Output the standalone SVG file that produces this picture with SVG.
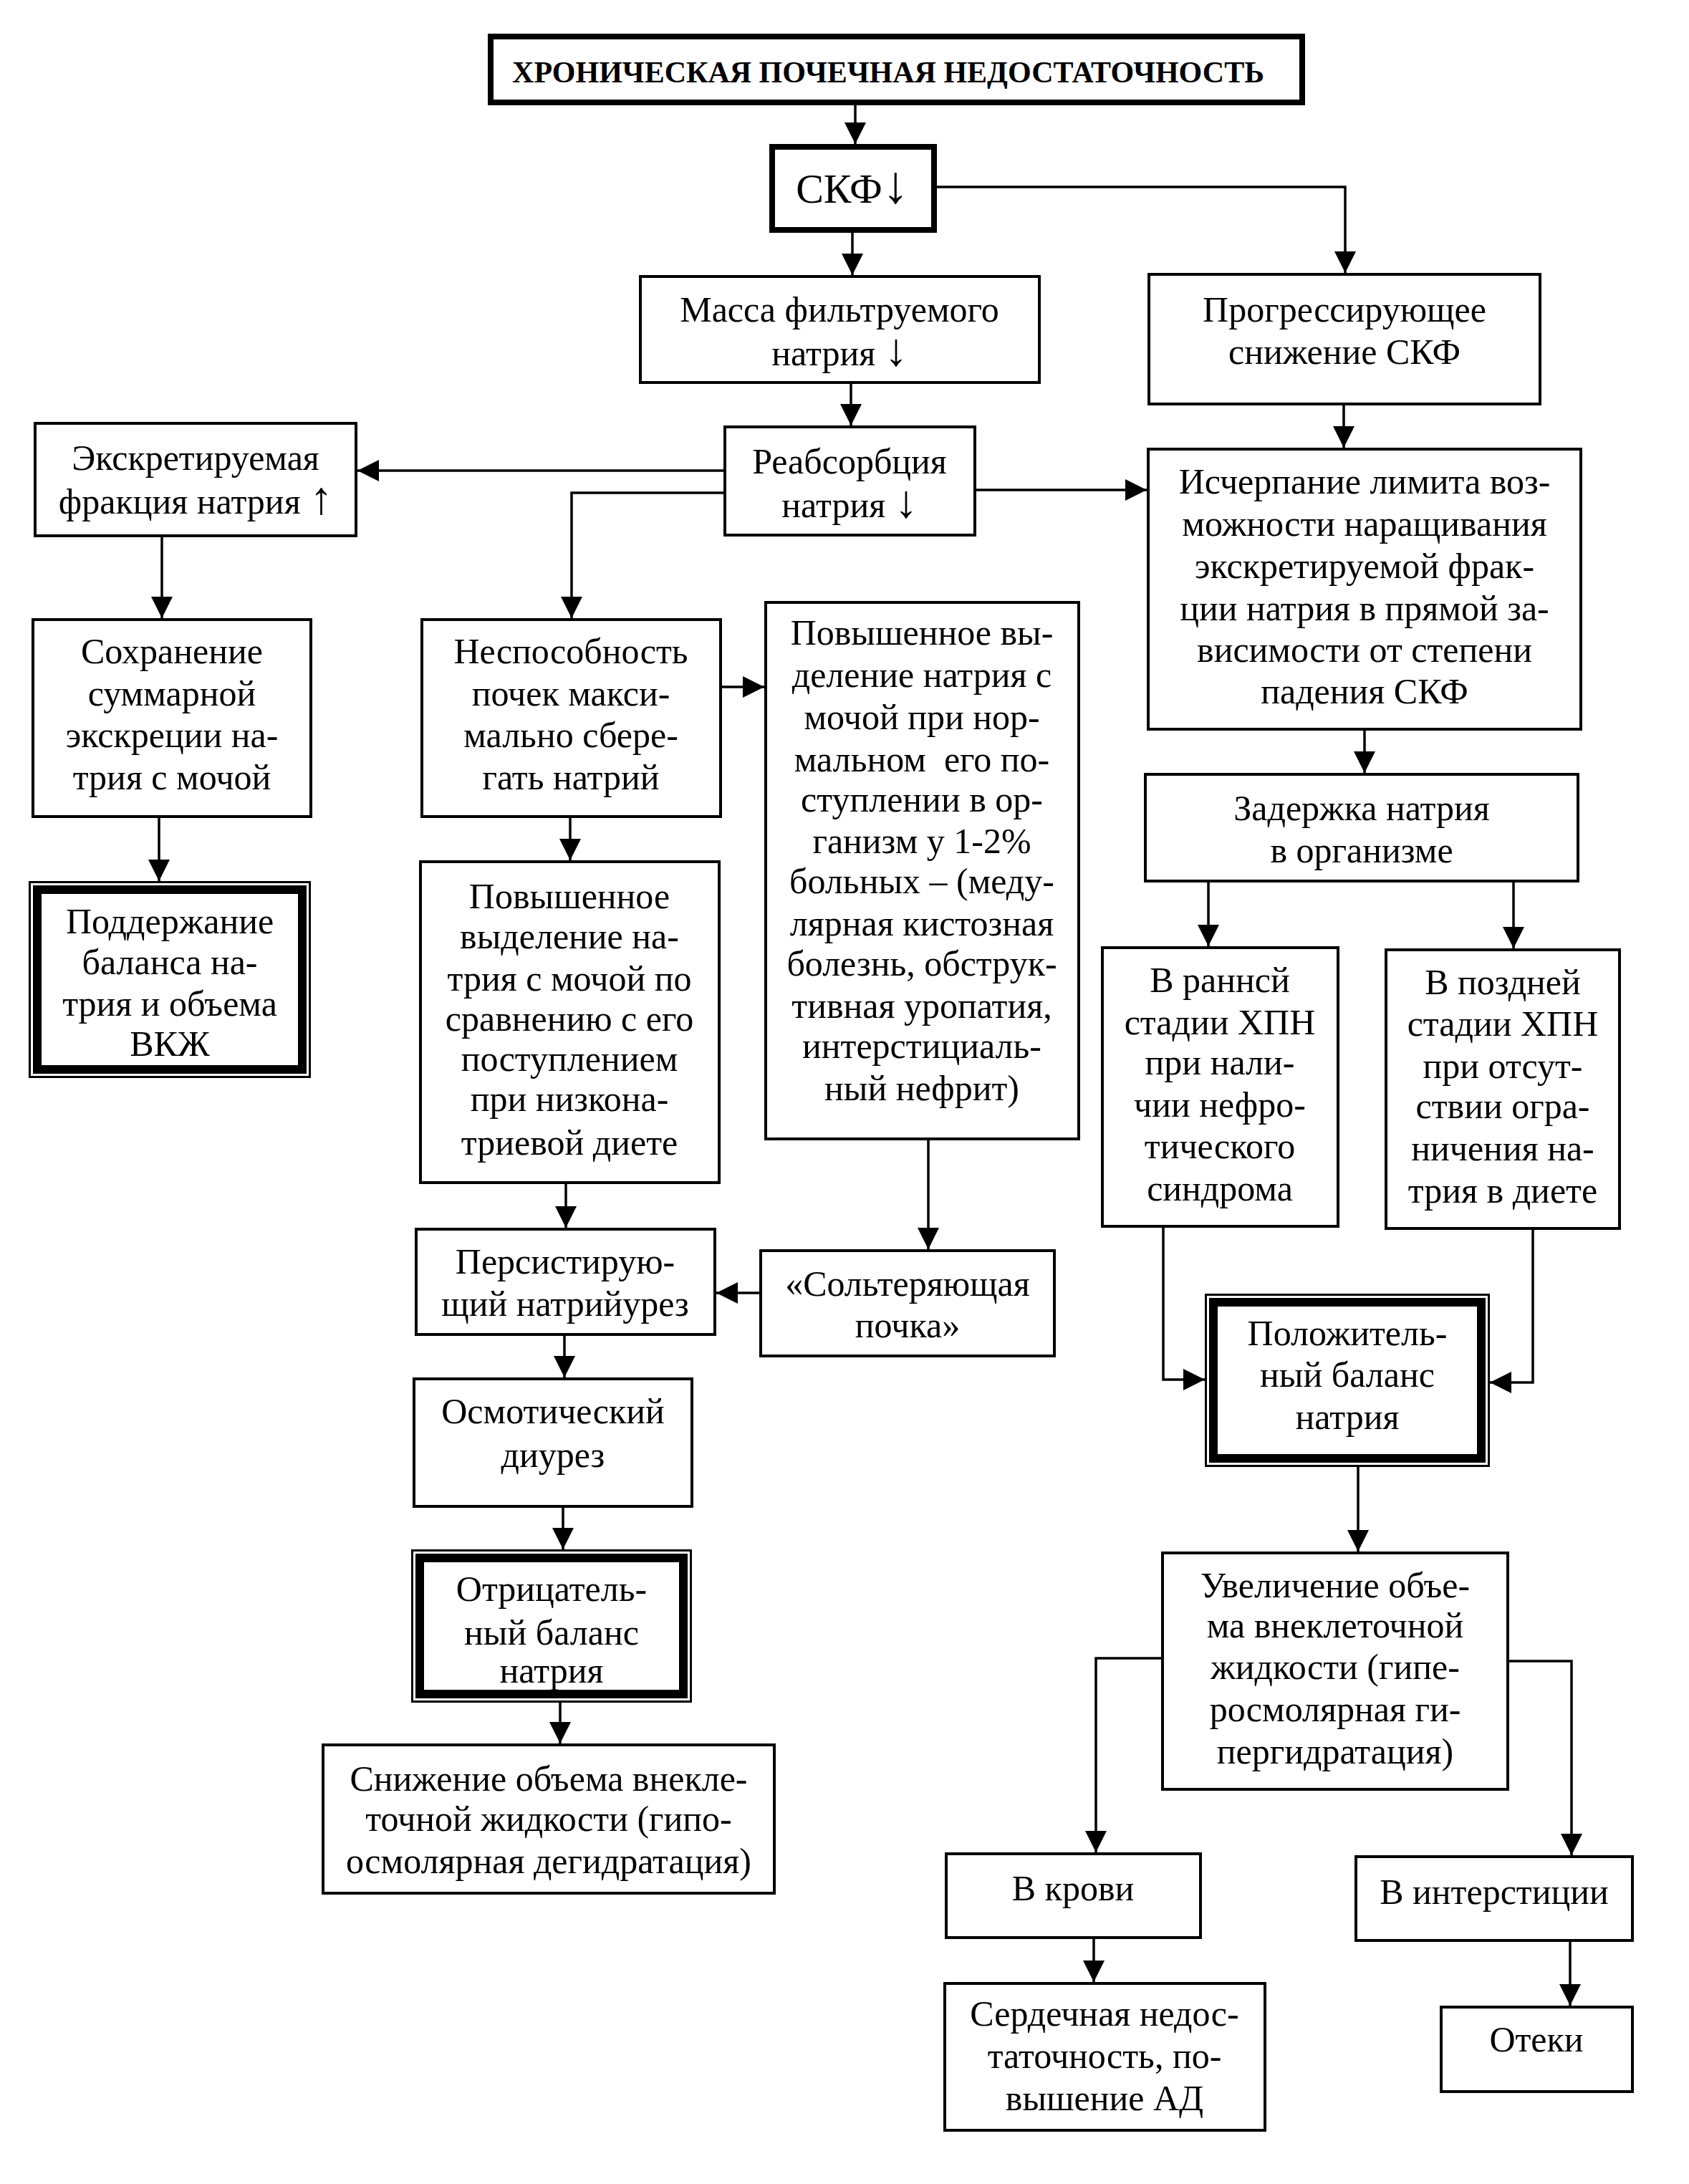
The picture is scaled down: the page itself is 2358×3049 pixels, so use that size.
<svg xmlns="http://www.w3.org/2000/svg" width="2358" height="3049" viewBox="0 0 2358 3049">
<style>
.b{fill:#fff;stroke:#000;stroke-width:4}
.th{fill:#fff;stroke:#000;stroke-width:8}
.o{fill:#fff;stroke:#000;stroke-width:3}
.i{fill:none;stroke:#000;stroke-width:12}
.c{fill:none;stroke:#000;stroke-width:3.5}
text{font-family:"Liberation Serif","Times New Roman",serif;font-size:50px;text-anchor:middle;fill:#000}
.tt{font-size:42px;font-weight:bold}
.sk{font-size:58px}
.ar{font-size:64px}
</style>
<defs>
<marker id="ah" markerUnits="userSpaceOnUse" viewBox="0 0 30 30" refX="30" refY="15" markerWidth="30" markerHeight="30" orient="auto">
<path d="M0,0 L30,15 L0,30 z" fill="#000"/>
</marker>
</defs>
<rect width="2358" height="3049" fill="#fff"/>
<g id="connectors" marker-end="url(#ah)">
<path class="c" d="M1194,147 V201"/>
<path class="c" d="M1190,325 V384"/>
<path class="c" d="M1308,261 H1878 V381"/>
<path class="c" d="M1188,536 V594"/>
<path class="c" d="M1010,657 H499"/>
<path class="c" d="M1010,688 H798 V863"/>
<path class="c" d="M1363,684 H1601"/>
<path class="c" d="M1876,566 V625"/>
<path class="c" d="M226,750 V863"/>
<path class="c" d="M222,1142 V1230"/>
<path class="c" d="M1008,959 H1067"/>
<path class="c" d="M796,1142 V1201"/>
<path class="c" d="M1296,1592 V1744"/>
<path class="c" d="M1060,1805 H1000"/>
<path class="c" d="M790,1653 V1714"/>
<path class="c" d="M788,1865 V1923"/>
<path class="c" d="M786,2105 V2163"/>
<path class="c" d="M782,2377 V2434"/>
<path class="c" d="M1905,1020 V1079"/>
<path class="c" d="M1687,1232 V1321"/>
<path class="c" d="M2113,1232 V1324"/>
<path class="c" d="M1624,1714 V1926 H1682"/>
<path class="c" d="M2140,1717 V1930 H2080"/>
<path class="c" d="M1896,2048 V2166"/>
<path class="c" d="M1621,2315 H1530 V2586"/>
<path class="c" d="M2107,2319 H2194 V2590"/>
<path class="c" d="M1527,2707 V2767"/>
<path class="c" d="M2192,2711 V2800"/>
</g>
<g id="n-title"><rect class="th" x="685" y="51" width="1133" height="92"/><text class="tt" x="1240" y="115">ХРОНИЧЕСКАЯ ПОЧЕЧНАЯ НЕДОСТАТОЧНОСТЬ</text></g>
<g id="n-skf"><rect class="th" x="1078" y="205" width="226" height="116"/><text class="sk" x="1190" y="283">СКФ<tspan font-size="74">↓</tspan></text></g>
<g id="n-massa"><rect class="b" x="894" y="386" width="557" height="148"/><text x="1172" y="449">Масса фильтруемого</text><text x="1172" y="510">натрия <tspan class="ar">↓</tspan></text></g>
<g id="n-reabs"><rect class="b" x="1012" y="596" width="349" height="151"/><text x="1186" y="661">Реабсорбция</text><text x="1186" y="722">натрия <tspan class="ar">↓</tspan></text></g>
<g id="n-exfr"><rect class="b" x="49" y="591" width="448" height="157"/><text x="273" y="656">Экскретируемая</text><text x="273" y="717">фракция натрия <tspan class="ar">↑</tspan></text></g>
<g id="n-progr"><rect class="b" x="1604" y="383" width="546" height="181"/><text x="1877" y="449">Прогрессирующее</text><text x="1877" y="508">снижение СКФ</text></g>
<g id="n-ischerp"><rect class="b" x="1603" y="627" width="604" height="391"/><text x="1905" y="689">Исчерпание лимита воз-</text><text x="1905" y="748">можности наращивания</text><text x="1905" y="807">экскретируемой фрак-</text><text x="1905" y="866">ции натрия в прямой за-</text><text x="1905" y="924">висимости от степени</text><text x="1905" y="982">падения СКФ</text></g>
<g id="n-sohr"><rect class="b" x="46" y="865" width="388" height="275"/><text x="240" y="926">Сохранение</text><text x="240" y="985">суммарной</text><text x="240" y="1043">экскреции на-</text><text x="240" y="1102">трия с мочой</text></g>
<g id="n-podd"><rect class="o" x="41.5" y="1231.5" width="391" height="272"/><rect class="i" x="52" y="1242" width="370" height="251"/><text x="237" y="1303">Поддержание</text><text x="237" y="1360">баланса на-</text><text x="237" y="1418">трия и объема</text><text x="237" y="1474">ВКЖ</text></g>
<g id="n-nesp"><rect class="b" x="589" y="865" width="417" height="275"/><text x="797" y="926">Неспособность</text><text x="797" y="985">почек макси-</text><text x="797" y="1043">мально сбере-</text><text x="797" y="1102">гать натрий</text></g>
<g id="n-tall"><rect class="b" x="1069" y="841" width="437" height="749"/><text x="1287" y="900">Повышенное вы-</text><text x="1287" y="959">деление натрия с</text><text x="1287" y="1018">мочой при нор-</text><text x="1287" y="1077">мальном&#160; его по-</text><text x="1287" y="1133">ступлении в ор-</text><text x="1287" y="1191">ганизм у 1-2%</text><text x="1287" y="1247">больных – (меду-</text><text x="1287" y="1306">лярная кистозная</text><text x="1287" y="1362">болезнь, обструк-</text><text x="1287" y="1421">тивная уропатия,</text><text x="1287" y="1477">интерстициаль-</text><text x="1287" y="1536">ный нефрит)</text></g>
<g id="n-povysh"><rect class="b" x="587" y="1203" width="417" height="448"/><text x="795" y="1268">Повышенное</text><text x="795" y="1324">выделение на-</text><text x="795" y="1383">трия с мочой по</text><text x="795" y="1439">сравнению с его</text><text x="795" y="1495">поступлением</text><text x="795" y="1551">при низкона-</text><text x="795" y="1612">триевой диете</text></g>
<g id="n-solt"><rect class="b" x="1062" y="1746" width="410" height="147"/><text x="1267" y="1809">«Сольтеряющая</text><text x="1267" y="1867">почка»</text></g>
<g id="n-pers"><rect class="b" x="581" y="1716" width="417" height="147"/><text x="789" y="1778">Персистирую-</text><text x="789" y="1837">щий натрийурез</text></g>
<g id="n-osm"><rect class="b" x="578" y="1925" width="388" height="178"/><text x="772" y="1987">Осмотический</text><text x="772" y="2048">диурез</text></g>
<g id="n-otr"><rect class="o" x="575.5" y="2164.5" width="389" height="211"/><rect class="i" x="586" y="2175" width="368" height="190"/><text x="770" y="2235">Отрицатель-</text><text x="770" y="2296">ный баланс</text><text x="770" y="2349">натрия</text></g>
<g id="n-snizh"><rect class="b" x="451" y="2436" width="630" height="207"/><text x="766" y="2500">Снижение объема внекле-</text><text x="766" y="2556">точной жидкости (гипо-</text><text x="766" y="2615">осмолярная дегидратация)</text></g>
<g id="n-zader"><rect class="b" x="1599" y="1081" width="604" height="149"/><text x="1901" y="1145">Задержка натрия</text><text x="1901" y="1204">в организме</text></g>
<g id="n-rann"><rect class="b" x="1539" y="1323" width="329" height="389"/><text x="1703" y="1385">В раннсй</text><text x="1703" y="1444">стадии ХПН</text><text x="1703" y="1500">при нали-</text><text x="1703" y="1559">чии нефро-</text><text x="1703" y="1617">тического</text><text x="1703" y="1676">синдрома</text></g>
<g id="n-pozd"><rect class="b" x="1935" y="1326" width="326" height="389"/><text x="2098" y="1388">В поздней</text><text x="2098" y="1446">стадии ХПН</text><text x="2098" y="1505">при отсут-</text><text x="2098" y="1561">ствии огра-</text><text x="2098" y="1620">ничения на-</text><text x="2098" y="1679">трия в диете</text></g>
<g id="n-polozh"><rect class="o" x="1683.5" y="1807.5" width="395" height="239"/><rect class="i" x="1694" y="1818" width="374" height="218"/><text x="1881" y="1878">Положитель-</text><text x="1881" y="1936">ный баланс</text><text x="1881" y="1995">натрия</text></g>
<g id="n-uvel"><rect class="b" x="1623" y="2168" width="482" height="330"/><text x="1864" y="2230">Увеличение объе-</text><text x="1864" y="2286">ма внеклеточной</text><text x="1864" y="2344">жидкости (гипе-</text><text x="1864" y="2403">росмолярная ги-</text><text x="1864" y="2462">пергидратация)</text></g>
<g id="n-krov"><rect class="b" x="1321" y="2588" width="355" height="117"/><text x="1498" y="2653">В крови</text></g>
<g id="n-inter"><rect class="b" x="1893" y="2592" width="386" height="117"/><text x="2086" y="2658">В интерстиции</text></g>
<g id="n-serd"><rect class="b" x="1319" y="2769" width="447" height="205"/><text x="1542" y="2828">Сердечная недос-</text><text x="1542" y="2887">таточность, по-</text><text x="1542" y="2946">вышение АД</text></g>
<g id="n-oteki"><rect class="b" x="2012" y="2802" width="267" height="118"/><text x="2145" y="2864">Отеки</text></g>
</svg>
